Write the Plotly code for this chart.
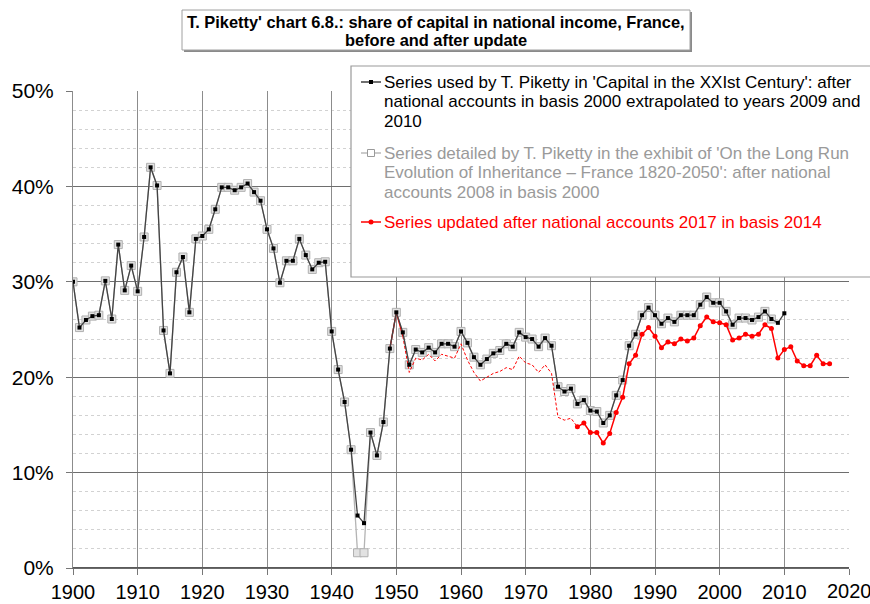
import plotly.graph_objects as go

# ---------------- data ----------------
black_years = list(range(1900, 2011))
black_values = [
    30.0, 25.2, 26.0, 26.4, 26.5, 30.1, 26.1, 33.9, 29.1, 31.7,   # 1900-1909
    29.0, 34.7, 42.0, 40.1, 24.9, 20.4, 31.0, 32.6, 26.8, 34.5,   # 1910-1919
    34.8, 35.5, 37.6, 39.9, 39.9, 39.6, 39.9, 40.3, 39.4, 38.5,   # 1920-1929
    35.5, 33.5, 29.9, 32.2, 32.2, 34.5, 32.8, 31.3, 32.0, 32.1,   # 1930-1939
    24.8, 20.8, 17.4, 12.4, 5.5, 4.7, 14.2, 11.8, 15.3, 23.0,     # 1940-1949
    26.8, 24.7, 21.3, 22.9, 22.6, 23.1, 22.6, 23.5, 23.5, 23.2,   # 1950-1959
    24.8, 23.6, 22.1, 21.3, 21.9, 22.5, 22.8, 23.5, 23.2, 24.7,   # 1960-1969
    24.2, 24.0, 23.2, 24.1, 23.3, 19.0, 18.5, 18.8, 17.2, 17.6,   # 1970-1979
    16.5, 16.4, 15.2, 16.0, 18.1, 19.7, 23.3, 24.5, 26.5, 27.3,   # 1980-1989
    26.5, 25.6, 26.2, 25.8, 26.5, 26.5, 26.5, 27.6, 28.4, 27.8,   # 1990-1999
    27.8, 26.9, 25.5, 26.2, 26.2, 26.0, 26.3, 26.9, 26.1, 25.7,   # 2000-2009
    26.7,                                                         # 2010
]

gray_years = list(range(1900, 2009))
gray_values = [
    30.0, 25.2, 26.0, 26.4, 26.5, 30.1, 26.1, 33.9, 29.1, 31.7,
    29.0, 34.7, 42.0, 40.1, 24.9, 20.4, 31.0, 32.6, 26.8, 34.5,
    34.8, 35.5, 37.6, 39.9, 39.9, 39.6, 39.9, 40.3, 39.4, 38.5,
    35.5, 33.5, 29.9, 32.2, 32.2, 34.5, 32.8, 31.3, 32.0, 32.1,
    24.8, 20.8, 17.4, 12.4, 1.6, 1.6, 14.2, 11.8, 15.3, 23.0,
    26.8, 24.7, 21.3, 22.9, 22.6, 23.1, 22.6, 23.5, 23.5, 23.2,
    24.8, 23.6, 22.1, 21.3, 21.9, 22.5, 22.8, 23.5, 23.2, 24.7,
    24.2, 24.0, 23.2, 24.1, 23.3, 19.0, 18.5, 18.8, 17.2, 17.6,
    16.5, 16.4, 15.2, 16.0, 18.1, 19.7, 23.3, 24.5, 26.5, 27.3,
    26.5, 25.6, 26.2, 25.8, 26.5, 26.5, 26.5, 27.6, 28.4, 27.8,
    27.8, 26.9, 25.5, 26.2, 26.2, 26.0, 26.3, 26.9, 26.1,
]

red_years = list(range(1949, 2018))
red_values = [
    23.0,                                                         # 1949
    26.8, 24.3, 20.5, 22.0, 21.8, 22.4, 21.7, 22.4, 22.2, 22.0,   # 1950-1959
    23.5, 21.8, 20.5, 19.6, 20.0, 20.4, 20.6, 21.0, 20.8, 22.2,   # 1960-1969
    21.5, 21.3, 20.5, 21.3, 20.4, 15.8, 15.5, 15.7, 14.8, 15.2,   # 1970-1979
    14.2, 14.2, 13.1, 14.1, 16.3, 17.9, 21.4, 22.3, 24.5, 25.2,   # 1980-1989
    24.3, 23.1, 23.7, 23.5, 24.0, 23.8, 24.1, 25.4, 26.3, 25.8,   # 1990-1999
    25.7, 25.5, 23.9, 24.1, 24.5, 24.3, 24.5, 25.5, 25.1, 22.0,   # 2000-2009
    22.9, 23.2, 21.7, 21.2, 21.2, 22.3, 21.4, 21.4,               # 2010-2017
]
red_dash_start = 1951   # dashed (no markers) from this year
red_solid_start = 1978  # solid with markers from this year

x_ticks = list(range(1900, 2021, 10))
y_ticks = [0, 10, 20, 30, 40, 50]
y_tick_labels = ["0%", "10%", "20%", "30%", "40%", "50%"]

title_lines = ["T. Piketty' chart 6.8.: share of capital in national income, France,",
               "before and after update"]
legend_black = ["Series used by T. Piketty in 'Capital in the XXIst Century': after",
                "national accounts in basis 2000 extrapolated to years 2009 and",
                "2010"]
legend_gray = ["Series detailed by T. Piketty in the exhibit of 'On the Long Run",
               "Evolution of Inheritance – France 1820-2050': after national",
               "accounts 2008 in basis 2000"]
legend_red = ["Series updated after national accounts 2017 in basis 2014"]

# ---------------- figure ----------------
FONT = "Liberation Sans, Arial, sans-serif"
W, H = 870, 604
ML, MR, MT, MB = 73, 21, 91, 36
PW, PH = W - ML - MR, H - MT - MB


def px(xp):
    return (xp - ML) / PW


def py(yp):
    return 1 - (yp - MT) / PH


fig = go.Figure()

# gray series (behind)
fig.add_trace(go.Scatter(
    x=gray_years, y=gray_values, mode="lines+markers", showlegend=False,
    line=dict(color="#b4b4b4", width=1.3),
    marker=dict(symbol="square", size=8, color="#e2e2e2", line=dict(color="#b0b0b0", width=1)),
))

# red series: early solid part, dashed part, solid with markers
i_d = red_years.index(red_dash_start)
i_s = red_years.index(red_solid_start)
fig.add_trace(go.Scatter(
    x=red_years[:i_d + 1], y=red_values[:i_d + 1], mode="lines", showlegend=False,
    line=dict(color="#ff0000", width=1.3),
))
fig.add_trace(go.Scatter(
    x=red_years[i_d:i_s + 1], y=red_values[i_d:i_s + 1], mode="lines", showlegend=False,
    line=dict(color="#ff0000", width=1.0, dash="3px,2px"),
))
fig.add_trace(go.Scatter(
    x=red_years[i_s:], y=red_values[i_s:], mode="lines+markers", showlegend=False,
    line=dict(color="#ff0000", width=1.5),
    marker=dict(symbol="circle", size=5, color="#ff0000"),
))

# black series (front)
fig.add_trace(go.Scatter(
    x=black_years, y=black_values, mode="lines+markers", showlegend=False,
    line=dict(color="#444444", width=1.3),
    marker=dict(symbol="square", size=4, color="#000000"),
))

shapes = [
    # x axis line at 0%
    dict(type="line", xref="paper", yref="y", x0=0, x1=1, y0=0, y1=0,
         line=dict(color="#5a5a5a", width=2), layer="above"),
    # legend box
    dict(type="rect", xref="paper", yref="paper",
         x0=px(351), x1=px(885), y0=py(277), y1=py(66),
         fillcolor="white", line=dict(color="#9a9a9a", width=1.2), layer="above"),
    # title box shadow
    dict(type="rect", xref="paper", yref="paper",
         x0=px(184), x1=px(692), y0=py(52), y1=py(12),
         fillcolor="#8a8a8a", line=dict(width=0), layer="above"),
    # title box
    dict(type="rect", xref="paper", yref="paper",
         x0=px(182), x1=px(690), y0=py(50), y1=py(10),
         fillcolor="white", line=dict(color="#a0a0a0", width=1), layer="above"),
    # legend symbols
    dict(type="line", xref="paper", yref="paper", x0=px(361), x1=px(381), y0=py(82), y1=py(82),
         line=dict(color="#222222", width=1.3), layer="above"),
    dict(type="rect", xref="paper", yref="paper", x0=px(369), x1=px(373), y0=py(84), y1=py(80),
         fillcolor="#000000", line=dict(width=0), layer="above"),
    dict(type="line", xref="paper", yref="paper", x0=px(361), x1=px(381), y0=py(153), y1=py(153),
         line=dict(color="#a8a8a8", width=1.2), layer="above"),
    dict(type="rect", xref="paper", yref="paper", x0=px(367.5), x1=px(374.5), y0=py(156.5), y1=py(149.5),
         fillcolor="white", line=dict(color="#9a9a9a", width=1), layer="above"),
    dict(type="line", xref="paper", yref="paper", x0=px(361), x1=px(381), y0=py(222), y1=py(222),
         line=dict(color="#ff0000", width=1.5), layer="above"),
    dict(type="circle", xref="paper", yref="paper", x0=px(368.5), x1=px(373.5), y0=py(224.5), y1=py(219.5),
         fillcolor="#ff0000", line=dict(width=0), layer="above"),
]

annotations = []
for text, yc in zip(title_lines, [22, 40]):
    annotations.append(dict(text="<b>" + text + "</b>", xref="paper", yref="paper", x=px(436), y=py(yc),
                            xanchor="center", yanchor="middle", showarrow=False,
                            font=dict(family=FONT, size=16.4, color="#000000")))
for lines, ys, color, size in [
    (legend_black, [82, 101.5, 121], "#000000", 17.0),
    (legend_gray, [153, 172.5, 192], "#9a9a9a", 17.0),
    (legend_red, [222], "#ff0000", 17.0),
]:
    for text, yc in zip(lines, ys):
        annotations.append(dict(text=text, xref="paper", yref="paper", x=px(382), y=py(yc),
                                xanchor="left", yanchor="middle", showarrow=False,
                                font=dict(family=FONT, size=size, color=color)))
# last x tick label, partly cut by the right edge as in the reference
annotations.append(dict(text=str(x_ticks[-1]), xref="x", yref="paper", x=x_ticks[-1], y=py(591),
                        xanchor="center", yanchor="middle", showarrow=False,
                        font=dict(family=FONT, size=20, color="#000000")))

fig.update_layout(
    width=W, height=H,
    margin=dict(l=ML, r=MR, t=MT, b=MB, autoexpand=False),
    paper_bgcolor="white", plot_bgcolor="white",
    font=dict(family=FONT, color="#000000"),
    showlegend=False,
    xaxis=dict(range=[1900, 2020], tickvals=x_ticks, ticks="outside", ticklen=6,
               tickcolor="#777777", showgrid=True, gridcolor="#8c8c8c", gridwidth=1,
               showline=True, linecolor="#6a6a6a", linewidth=1,
               tickfont=dict(family=FONT, size=20, color="#000000"), zeroline=False,
               ticklabelstandoff=0),
    yaxis=dict(range=[0, 50], tickmode="array", tickvals=y_ticks, ticktext=y_tick_labels,
               ticks="outside", ticklen=6,
               tickcolor="#777777", showgrid=True, gridcolor="#6e6e6e", gridwidth=1.2,
               showline=True, linecolor="#8c8c8c", linewidth=1, zeroline=False,
               tickfont=dict(family=FONT, size=21, color="#000000"), ticklabelstandoff=8,
               minor=dict(dtick=2, showgrid=True, gridcolor="#d2d2d2", griddash="dot", gridwidth=1)),
    shapes=shapes,
    annotations=annotations,
)

fig.write_html("out.html", config={"displayModeBar": False},
               post_script="document.body.style.margin='0';document.body.style.overflow='hidden';")
